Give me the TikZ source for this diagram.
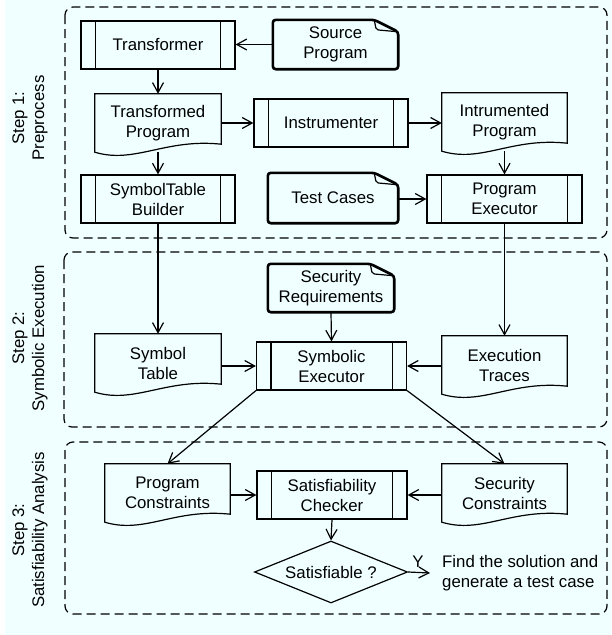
\documentclass[tikz,border=0pt]{standalone}
\usepackage{fontspec}
\setmainfont{Liberation Sans}
\usetikzlibrary{arrows.meta,shapes.geometric}
\definecolor{bgc}{RGB}{240,255,255}
\tikzset{
  thinline/.style={line width=1.2pt},
  thickline/.style={line width=2.6pt},
  arr/.style={thinline, -{Straight Barb[length=10pt,width=11pt]}},
  proc/.style={draw, thinline, minimum width=#1, minimum height=48pt, inner sep=0pt, align=center},
  docnode/.style={minimum width=#1, minimum height=58pt, inner sep=0pt, align=center},
  notenode/.style={minimum width=#1, inner sep=0pt, align=center},
  stage/.style={draw, thinline, dash pattern=on 9pt off 5pt, rounded corners=8pt},
  steplabel/.style={rotate=90, align=center},
  every node/.style={font=\fontsize{16.8}{20}\selectfont}
}
\newcommand\procbars[1]{\draw[thinline] ([xshift=15pt]#1.north west) -- ([xshift=15pt]#1.south west) ([xshift=-15pt]#1.north east) -- ([xshift=-15pt]#1.south east);}
\newcommand\docoutline[1]{\draw[thinline] (#1.south west) -- (#1.north west) -- (#1.north east) -- ([yshift=8pt]#1.south east) .. controls ([xshift=-56pt,yshift=14pt]#1.south east) and ([xshift=40pt,yshift=-12pt]#1.south west) .. (#1.south west) -- cycle;}
\newcommand\noteoutline[1]{\draw[thickline, rounded corners=3pt] (#1.south west) -- (#1.north west) -- ([xshift=-24pt]#1.north east) -- ([yshift=-12pt]#1.north east) -- (#1.south east) -- cycle;
  \draw[thinline, rounded corners=2pt] ([xshift=-24pt]#1.north east) -- ([xshift=-22pt,yshift=-10pt]#1.north east) -- ([yshift=-12pt]#1.north east);}
\begin{document}
\begin{tikzpicture}[x=1pt,y=-1pt]
\useasboundingbox (0,0) rectangle (611,635);
\fill[bgc] (5,0) rectangle (611,635);
% stages
\draw[stage] (65,7) rectangle (607,238);
\draw[stage] (64,252) rectangle (607,427);
\draw[stage] (65,442) rectangle (607,614);
\node[steplabel] (l1) at (30,118) {Step 1:\\Preprocess};
\node[steplabel] (l2) at (30,338) {Step 2:\\Symbolic Execution};
\node[steplabel] (l3) at (30,530) {Step 3:\\Satisfiability Analysis};
% step 1
\node[proc=154pt] (trans) at (158,45) {Transformer}; \procbars{trans}
\node[notenode=125pt, minimum height=49pt] (src) at (335.5,44.5) {Source\\Program}; \noteoutline{src}
\node[docnode=126pt] (tprog) at (158,123) {Transformed\\Program}; \docoutline{tprog}
\node[proc=154pt] (instr) at (331,123) {Instrumenter}; \procbars{instr}
\node[docnode=125pt] (iprog) at (504.5,122) {Intrumented\\Program}; \docoutline{iprog}
\node[proc=154pt] (stbuild) at (158,199) {SymbolTable\\Builder}; \procbars{stbuild}
\node[notenode=130pt, minimum height=50pt] (tc) at (333,198) {Test Cases}; \noteoutline{tc}
\node[proc=155pt] (exec) at (504.5,199) {Program\\Executor}; \procbars{exec}
% step 2
\node[notenode=126pt, minimum height=48pt] (secreq) at (331,288) {Security\\Requirements}; \noteoutline{secreq}
\node[docnode=126pt] (symtab) at (158,363) {Symbol\\Table}; \docoutline{symtab}
\node[proc=150pt] (symexec) at (331.5,366) {Symbolic\\Executor}; \procbars{symexec}
\node[docnode=125pt] (extr) at (504.5,365) {Execution\\Traces}; \docoutline{extr}
% step 3
\node[docnode=125pt] (pcons) at (167.5,493) {Program\\Constraints}; \docoutline{pcons}
\node[proc=150pt] (satcheck) at (332,495) {Satisfiability\\Checker}; \procbars{satcheck}
\node[docnode=125pt] (scons) at (504.5,493) {Security\\Constraints}; \docoutline{scons}
\node[diamond, draw, thinline, inner sep=0pt, minimum width=153pt, minimum height=62pt, aspect=2.47] (dia) at (331,572) {Satisfiable ?};
\node[anchor=west, align=left, inner xsep=12pt, inner ysep=0pt] (res) at (430,573) {Find the solution and\\generate a test case};
% arrows
\draw[arr] (src.west) -- (src.west -| trans.east);
\draw[arr] (trans.south) -- (tprog.north);
\draw[arr] (tprog.east |- instr.west) -- (instr.west);
\draw[arr] (instr.east) -- (instr.east -| iprog.west);
\draw[arr] (iprog.south) -- (exec.north);
\draw[arr] (tc.east |- exec.west) -- (exec.west);
\draw[arr] (tprog.south) -- (stbuild.north);
\draw[arr] (stbuild.south) -- (symtab.north);
\draw[arr] (exec.south) -- (extr.north);
\draw[arr] (secreq.south) -- (symexec.north);
\draw[arr] (symtab.east |- symexec.west) -- (symexec.west);
\draw[arr] (extr.west |- symexec.east) -- (symexec.east);
\draw[arr] (symexec.south west) -- (pcons.north);
\draw[arr] (symexec.south east) -- (scons.north);
\draw[arr] (pcons.east |- satcheck.west) -- (satcheck.west);
\draw[arr] (scons.west |- satcheck.east) -- (satcheck.east);
\draw[arr] (satcheck.south) -- (dia.north);
\draw[arr] (dia.east) -- (res.west) node[pos=0.45, above=1pt] (ylab) {Y};
\end{tikzpicture}
\end{document}
